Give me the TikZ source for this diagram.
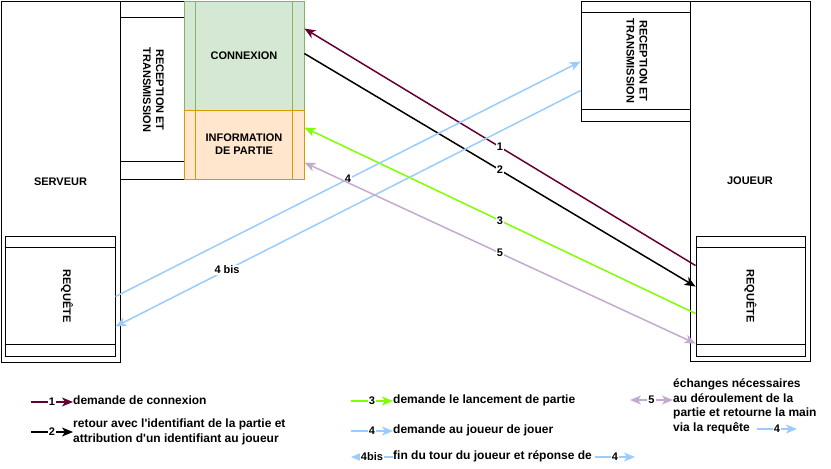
\documentclass[tikz,border=0pt]{standalone}
\usepackage{fontspec}
\setmainfont{Liberation Sans}
\usetikzlibrary{arrows.meta}
\definecolor{bordeaux}{HTML}{660033}
\definecolor{vertvif}{HTML}{80FF00}
\definecolor{bleuclair}{HTML}{99CCFF}
\definecolor{lilas}{HTML}{C3ABD0}
\definecolor{vertbord}{HTML}{82B366}
\definecolor{vertfond}{HTML}{D5E8D4}
\definecolor{orbord}{HTML}{D79B00}
\definecolor{orfond}{HTML}{FFE6CC}
\begin{document}
\begin{tikzpicture}[x=1pt,y=-1pt,>={Stealth[length=11pt,width=9pt,inset=3pt]},
    box/.style={draw,line width=0.9pt,inner sep=0pt},
    btext/.style={font=\fontsize{11}{13}\selectfont\bfseries,align=center},
    vtext/.style={btext,rotate=-90},
    flow/.style={line width=1.5pt},
    lbl/.style={fill=white,text=black,inner sep=1pt,font=\fontsize{11}{12}\selectfont\bfseries},
    legend/.style={anchor=west,inner sep=0pt,align=left,font=\fontsize{12}{14.5}\selectfont\bfseries}]
                \useasboundingbox (0,0) rectangle (831,469);

                % serveur
                \node[box,btext,minimum width=119pt,minimum height=361pt] (serveur) at (60.5,181.5) {SERVEUR};
                \node[box,minimum width=64pt,minimum height=178pt] (recS) at (152,90) {};
                \draw[line width=0.9pt] ([yshift=-17pt]recS.north west) -- ([yshift=-17pt]recS.north east)
                                        ([yshift=18pt]recS.south west) -- ([yshift=18pt]recS.south east);
                \node[vtext] (recStxt) at ([xshift=1.5pt]recS.center) {RECEPTION ET\\TRANSMISSION};
                \node[box,btext,draw=vertbord,fill=vertfond,minimum width=120pt,minimum height=109pt] (connexion) at (244,55.5) {CONNEXION};
                \draw[vertbord,line width=0.9pt] ([xshift=12pt]connexion.north west) -- ([xshift=12pt]connexion.south west)
                                                 ([xshift=-12pt]connexion.north east) -- ([xshift=-12pt]connexion.south east);
                \node[box,btext,draw=orbord,fill=orfond,minimum width=120pt,minimum height=69pt] (info) at (244,144.5) {INFORMATION\\DE PARTIE};
                \draw[orbord,line width=0.9pt] ([xshift=12pt]info.north west) -- ([xshift=12pt]info.south west)
                                               ([xshift=-12pt]info.north east) -- ([xshift=-12pt]info.south east);
                \node[box,minimum width=110pt,minimum height=120pt] (reqS) at (60,296) {};
                \draw[line width=0.9pt] ([yshift=-12pt]reqS.north west) -- ([yshift=-12pt]reqS.north east)
                                        ([yshift=12pt]reqS.south west) -- ([yshift=12pt]reqS.south east);
                \node[vtext] (reqStxt) at ([xshift=7pt]reqS.center) {REQUÊTE};

                % joueur
                \node[box,btext,minimum width=120pt,minimum height=360pt] (joueur) at (750,181) {JOUEUR};
                \node[box,minimum width=109pt,minimum height=120pt] (recJ) at (635.5,61) {};
                \draw[line width=0.9pt] ([yshift=-12pt]recJ.north west) -- ([yshift=-12pt]recJ.north east)
                                        ([yshift=12pt]recJ.south west) -- ([yshift=12pt]recJ.south east);
                \node[vtext] (recJtxt) at ([xshift=1.5pt]recJ.center) {RECEPTION ET\\TRANSMISSION};
                \node[box,minimum width=109pt,minimum height=120pt] (reqJ) at (750.5,296) {};
                \draw[line width=0.9pt] ([yshift=-12pt]reqJ.north west) -- ([yshift=-12pt]reqJ.north east)
                                        ([yshift=12pt]reqJ.south west) -- ([yshift=12pt]reqJ.south east);
                \node[vtext] (reqJtxt) at (reqJ.center) {REQUÊTE};

                \path [->,flow] ([yshift=-30pt]reqJ.north west) edge [draw=bordeaux] node[lbl] {1} ([yshift=-28pt]connexion.north east)
                                ([yshift=-53pt]connexion.north east) edge node[lbl] {2} ([yshift=-51pt]reqJ.north west)
                                ([yshift=-78pt]reqJ.north west) edge [draw=vertvif] node[lbl] {3} ([yshift=-18pt]info.north east)
                                ([yshift=-61pt]reqS.north east) edge [draw=bleuclair] node[lbl] {4} ([yshift=-61pt]recJ.north west)
                                ([yshift=-90pt]recJ.north west) edge [draw=bleuclair] node[lbl,pos=0.76] {4 bis} ([yshift=-91pt]reqS.north east)
                ;
                \path [<->,flow] ([yshift=-53pt]info.north east) edge [draw=lilas] node[lbl] {5} ([yshift=-108pt]reqJ.north west);

                % legende
                \node[legend] (leg1) at (73,400) {demande de connexion};
                \node[legend] (leg2) at (73,432) {retour avec l\textquotesingle identifiant de la partie et\\attribution d\textquotesingle un identifiant au joueur};
                \node[legend] (leg3) at (393,400) {demande le lancement de partie};
                \node[legend] (leg4) at (393,430) {demande au joueur de jouer};
                \node[legend] (leg4b) at (393,456) {fin du tour du joueur et réponse de};
                \node[legend] (leg5) at (673,406.5) {échanges nécessaires\\au déroulement de la\\partie et retourne la main\\via la requête};
                \coordinate (l1) at (31,402);
                \coordinate (l2) at (31,432);
                \coordinate (l3) at (351,401);
                \coordinate (l4) at (351,431);
                \coordinate (l4b) at (351,457);
                \coordinate (l5) at (630,400);
                \coordinate (a4b) at (595,457);
                \coordinate (b4b) at (635,457);
                \coordinate (a5) at (757,429);
                \coordinate (b5) at (797,429);
                \path [->,flow] (l1) edge [draw=bordeaux] node[lbl] {1} (l1 -| leg1.west)
                                (l2) edge node[lbl] {2} (l2 -| leg2.west)
                                (l3) edge [draw=vertvif] node[lbl] {3} (l3 -| leg3.west)
                                (l4) edge [draw=bleuclair] node[lbl] {4} (l4 -| leg4.west)
                                (l4b -| leg4b.west) edge [draw=bleuclair] node[lbl] {4bis} (l4b)
                                (a4b) edge [draw=bleuclair] node[lbl] {4} (b4b)
                                (a5) edge [draw=bleuclair] node[lbl] {4} (b5)
                ;
                \path [<->,flow] (l5) edge [draw=lilas] node[lbl] {5} (l5 -| leg5.west);
            \end{tikzpicture}
\end{document}
